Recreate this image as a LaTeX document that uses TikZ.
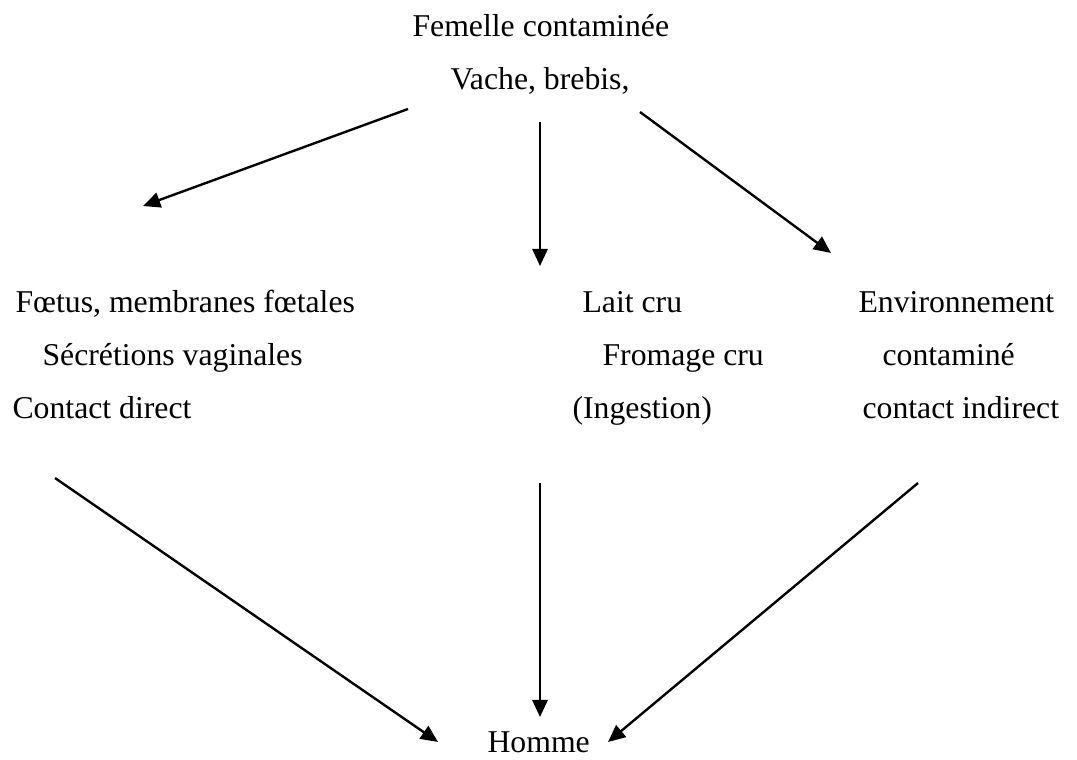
\documentclass[tikz,border=0pt]{standalone}
\usepackage{fontspec}
\setmainfont{Liberation Serif}
\usetikzlibrary{arrows.meta}
\begin{document}
\begin{tikzpicture}[x=0.378pt, y=-0.378pt, >={Triangle[length=6.5pt,width=5.8pt]},
    txt/.style={anchor=base west, inner sep=0pt, font=\fontsize{12}{14}\selectfont},
    fleche/.style={->, line width=0.9pt}]
    \useasboundingbox (0,0) rectangle (1077,760);

    % source
    \node[txt] (femelle) at (412, 37) {Femelle contaminée};
    \node[txt] (vache) at (450, 90) {Vache, brebis,};

    % voie directe
    \node[txt] (foetus) at (15, 312) {Fœtus, membranes fœtales};
    \node[txt] (secretions) at (42, 365) {Sécrétions vaginales};
    \node[txt] (direct) at (12, 418) {Contact direct};

    % voie digestive
    \node[txt] (lait) at (582, 312) {Lait cru};
    \node[txt] (fromage) at (602, 365) {Fromage cru};
    \node[txt] (ingestion) at (572, 418) {(Ingestion)};

    % voie indirecte
    \node[txt] (environnement) at (858, 312) {Environnement};
    \node[txt] (contamine) at (882, 365) {contaminé};
    \node[txt] (indirect) at (862, 418) {contact indirect};

    % cible
    \node[txt] (homme) at (487, 752) {Homme};

    % extremites des fleches
    \coordinate (d1) at (408, 109);
    \coordinate (a1) at (143, 206);
    \coordinate (d2) at (540, 122);
    \coordinate (a2) at (540, 266);
    \coordinate (d3) at (640, 112);
    \coordinate (a3) at (831, 253);
    \coordinate (d4) at (55, 478);
    \coordinate (a4) at (438, 742);
    \coordinate (d5) at (540, 483);
    \coordinate (a5) at (540, 717);
    \coordinate (d6) at (918, 483);
    \coordinate (a6) at (608, 742);

    \draw[fleche] (d1) -- (a1);
    \draw[fleche] (d2) -- (a2);
    \draw[fleche] (d3) -- (a3);
    \draw[fleche] (d4) -- (a4);
    \draw[fleche] (d5) -- (a5);
    \draw[fleche] (d6) -- (a6);
\end{tikzpicture}
\end{document}
